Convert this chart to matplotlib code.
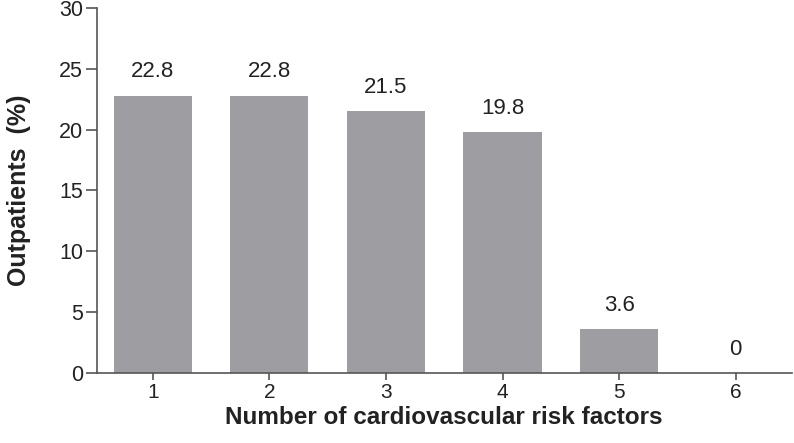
import matplotlib
matplotlib.use("Agg")
from matplotlib import pyplot as plt

plt.rcParams['font.family'] = ['Liberation Sans', 'DejaVu Sans']

# number of cardiovascular risk factors and share of outpatients (%)
factors = [1, 2, 3, 4, 5, 6]
percent = [22.8, 22.8, 21.5, 19.8, 3.6, 0]
labels = ['22.8', '22.8', '21.5', '19.8', '3.6', '0']
yticks = [0, 5, 10, 15, 20, 25, 30]

fig = plt.figure(figsize=(7.94, 4.43), dpi=100)
ax = fig.add_axes([0.122, 0.158, 0.875, 0.824])

ax.bar(factors, percent, width=0.67, color='#9e9ea2')
for x, v, t in zip(factors, percent, labels):
    ax.text(x, v + 1.1, t, ha='center', va='bottom', fontsize=16, color='#222222')

ax.set_xlim(0.52, 6.48)
ax.set_ylim(0, 30)
ax.set_yticks(yticks)
ax.set_xticks(factors)

for s in ['top', 'right']:
    ax.spines[s].set_visible(False)
for s in ['left', 'bottom']:
    ax.spines[s].set_color('#555555')
    ax.spines[s].set_linewidth(1.2)

ax.tick_params(axis='y', length=8, width=1.2, color='#555555', labelsize=15.5, pad=2, labelcolor='#222222')
ax.tick_params(axis='x', length=5, width=1.2, color='#555555', labelsize=15, pad=2, labelcolor='#222222')

ax.set_ylabel('Outpatients  (%)', fontsize=18, fontweight='bold', labelpad=20, color='#222222')
ax.set_xlabel('Number of cardiovascular risk factors', fontsize=17.5, fontweight='bold', labelpad=3, color='#222222')

plt.savefig('out.png', dpi=100)
plt.close("all")
